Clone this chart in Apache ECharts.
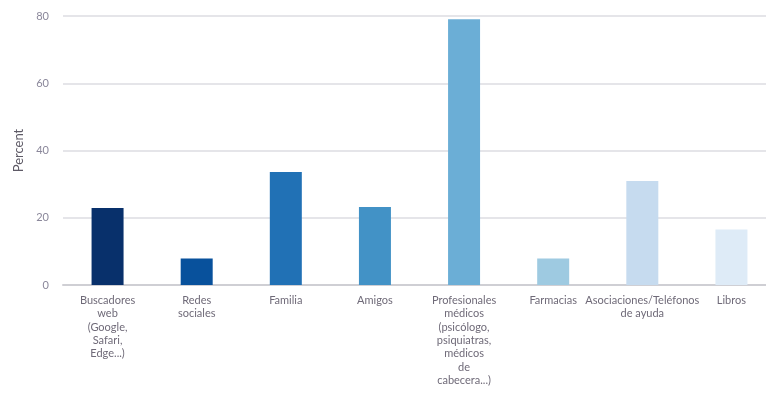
<!DOCTYPE html>
<html>
<head>
<meta charset="utf-8">
<script src="https://cdn.jsdelivr.net/npm/echarts@6/dist/echarts.min.js"></script>
<style>
  html, body { margin: 0; padding: 0; background: #ffffff; }
  #chart { width: 766px; height: 394px; }
</style>
</head>
<body>
<div id="chart"></div>
<script>
// Sources of information consulted (percent of respondents)
const categories = [
  'Buscadores\nweb\n(Google,\nSafari,\nEdge...)',
  'Redes\nsociales',
  'Familia',
  'Amigos',
  'Profesionales\nmédicos\n(psicólogo,\npsiquiatras,\nmédicos\nde\ncabecera...)',
  'Farmacias',
  'Asociaciones/Teléfonos\nde ayuda',
  'Libros'
];
const percentValues = [22.9, 7.9, 33.6, 23.2, 79, 7.9, 30.9, 16.5];
const barColors = ['#08306b', '#08519c', '#2171b5', '#4292c6', '#6baed6', '#9ecae1', '#c6dbef', '#deebf7'];
const yTicks = { min: 0, max: 80, interval: 20 };

const chart = echarts.init(document.getElementById('chart'), null, { renderer: 'canvas' });

chart.setOption({
  animation: false,
  backgroundColor: '#ffffff',
  grid: { left: 63, top: 16, width: 713, bottom: 109, containLabel: false, outerBoundsMode: 'none' },
  xAxis: {
    type: 'category',
    data: categories,
    axisLine: { show: true, lineStyle: { color: '#cfcfd4', width: 2 } },
    axisTick: { show: false },
    axisLabel: {
      interval: 0,
      margin: 9,
      color: '#6f6a78',
      fontFamily: 'Lato',
      fontSize: 11,
      lineHeight: 13.3
    }
  },
  yAxis: {
    type: 'value',
    min: yTicks.min,
    max: yTicks.max,
    interval: yTicks.interval,
    name: 'Percent',
    nameLocation: 'middle',
    nameGap: 38,
    nameTextStyle: { color: '#5e5a66', fontFamily: 'Lato', fontSize: 13 },
    axisLine: { show: false },
    axisTick: { show: false },
    axisLabel: { color: '#8a879a', fontFamily: 'Lato', fontSize: 11, margin: 14 },
    splitLine: { lineStyle: { color: '#dcdce2', width: 1.5 } }
  },
  series: [{
    type: 'bar',
    barWidth: 32,
    data: percentValues.map((v, i) => ({
      value: v,
      itemStyle: { color: barColors[i] }
    }))
  }]
});
</script>
</body>
</html>
